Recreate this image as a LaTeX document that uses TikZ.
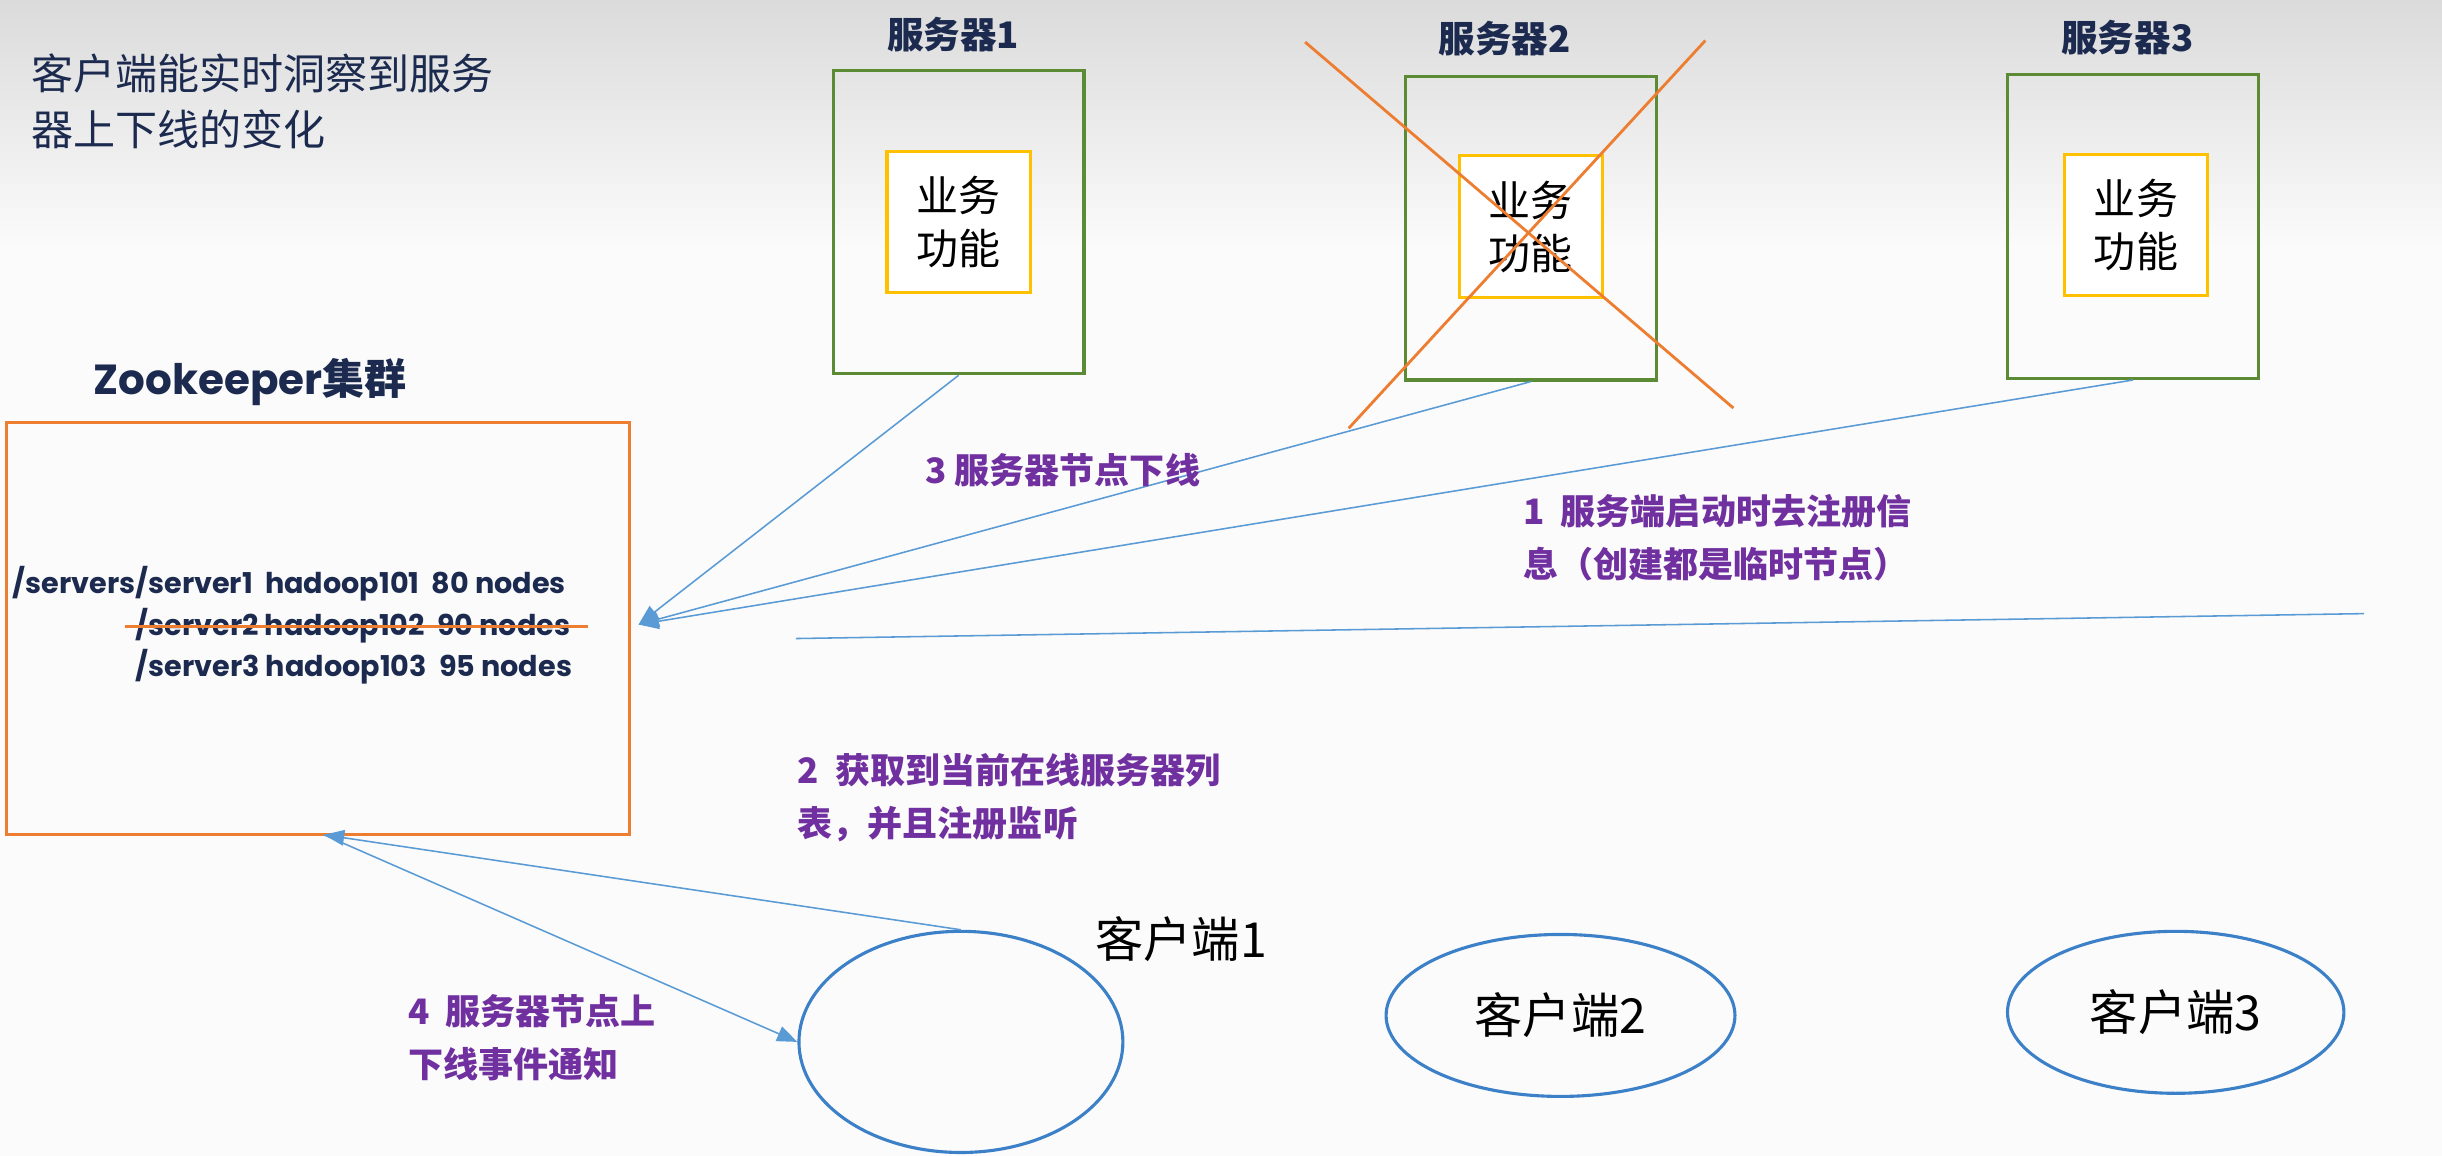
\documentclass[tikz,border=0pt]{standalone}
\usepackage{fontspec}
\setmainfont{Noto Sans CJK SC}
\newfontfamily\latinf{Poppins}
\usetikzlibrary{arrows.meta,shapes.geometric,calc}
\definecolor{navy}{HTML}{1B2A4E}
\definecolor{grn}{HTML}{5B8C35}
\definecolor{ylw}{HTML}{FFC000}
\definecolor{org}{HTML}{ED7D31}
\definecolor{lblue}{HTML}{5B9BD5}
\definecolor{eblue}{HTML}{3C80C8}
\definecolor{purp}{HTML}{7030A0}
\definecolor{bgtop}{RGB}{218,219,218}
\definecolor{bgbot}{RGB}{251,251,251}
\tikzset{
  srvbox/.style={draw=grn, line width=2pt, minimum width=161pt, minimum height=195pt, inner sep=0pt},
  funcbox/.style={draw=ylw, line width=2pt, fill=white, minimum width=92pt, minimum height=91pt, align=center, inner sep=0pt, font=\fontsize{27}{34}\selectfont},
  srvtitle/.style={text=navy, font=\fontsize{23.5}{26}\selectfont\bfseries},
  plabel/.style={text=purp, anchor=west, align=left, inner sep=0pt, font=\fontsize{22.5}{34}\selectfont\bfseries},
  zkline/.style={text=navy, anchor=west, inner sep=0pt, font=\latinf\fontsize{18.4}{22}\selectfont\bfseries},
  client/.style={draw=eblue, line width=2pt, ellipse, inner sep=0pt},
  conn/.style={draw=lblue, line width=1pt},
  tip/.style={-{Triangle[length=13pt,width=10pt]}, lblue},
  cross/.style={draw=org, line width=1.8pt}
}
\begin{document}
\begin{tikzpicture}[x=1pt,y=-1pt]
\useasboundingbox (0,0) rectangle (1568,742);
\shade[top color=bgtop, bottom color=bgbot] (0,0) rectangle (1568,160);
\fill[bgbot] (0,160) rectangle (1568,742);

% heading
\node[text=navy, anchor=west, align=left, inner sep=0pt, font=\fontsize{27}{36}\selectfont] (head) at (20,65) {客户端能实时洞察到服务\\器上下线的变化};

% servers
\node[srvbox] (s1) at (615.5,142.5) {};
\node[funcbox] (f1) at (615.5,142.5) {业务\\功能};
\node[srvtitle] (t1) at (612,22) {服务器1};

\node[srvbox] (s2) at (983,146.5) {};
\node[funcbox] (f2) at (983,145.5) {业务\\功能};
\node[srvtitle] (t2) at (966,25) {服务器2};

\node[srvbox] (s3) at (1369.5,145.5) {};
\node[funcbox] (f3) at (1371.5,144.5) {业务\\功能};
\node[srvtitle] (t3) at (1366,24) {服务器3};

% cross over server 2
\coordinate (xa1) at (838,27);
\coordinate (xa2) at (1113,262);
\coordinate (xb1) at (866,275);
\coordinate (xb2) at (1095,26);
\draw[cross] (xa1) -- (xa2);
\draw[cross] (xb1) -- (xb2);

% zookeeper cluster
\node[text=navy, anchor=west, inner sep=0pt, font=\fontsize{27}{30}\selectfont\bfseries] (zkt) at (60,245) {{\latinf Zookeeper}集群};
\node[draw=org, line width=2pt, minimum width=400pt, minimum height=265pt, inner sep=0pt] (zk) at (204,403.5) {};
\node[zkline] (l1) at (8,375) {/servers/server1\ \ hadoop101\ \ 80 nodes};
\node[zkline] (l2) at (87,402) {/server2 hadoop102\ \ 90 nodes};
\node[zkline] (l3) at (87,428) {/server3 hadoop103\ \ 95 nodes};
\draw[org, line width=2pt] ($(l2.west)+(-7,0)$) -- ($(l2.east)+(11,0)$);

% connectors servers -> zookeeper
\coordinate (zkin) at (410,401);
\draw[conn, tip] (s1.south) -- (zkin);
\draw[conn, tip] (s2.south) -- (zkin);
\draw[conn, tip] (s3.south) -- (zkin);

% long line
\coordinate (ll1) at (511,410);
\coordinate (ll2) at (1518,394);
\draw[conn] (ll1) -- (ll2);

% clients
\node[client, minimum width=208pt, minimum height=142pt] (c1) at (617,669) {};
\node[anchor=west, inner sep=0pt, font=\fontsize{31}{36}\selectfont] (c1l) at (703,603) {客户端1};
\node[client, minimum width=224pt, minimum height=104pt, font=\fontsize{31}{36}\selectfont] (c2) at (1002,652) {客户端2};
\node[client, minimum width=216pt, minimum height=104pt, font=\fontsize{31}{36}\selectfont] (c3) at (1397,650) {客户端3};

% client1 <-> zookeeper
\coordinate (zkb) at (208,536);
\draw[conn, tip] (c1.north) -- (zkb);
\draw[conn, tip] (zkb) -- (c1.west);

% labels
\node[plabel] (lab3) at (594,302) {3 服务器节点下线};
\node[plabel] (lab1) at (978,345) {1\ \ 服务端启动时去注册信\\息（创建都是临时节点）};
\node[plabel] (lab2) at (512,512) {2\ \ 获取到当前在线服务器列\\表，并且注册监听};
\node[plabel] (lab4) at (262,666) {4\ \ 服务器节点上\\下线事件通知};
\end{tikzpicture}
\end{document}
